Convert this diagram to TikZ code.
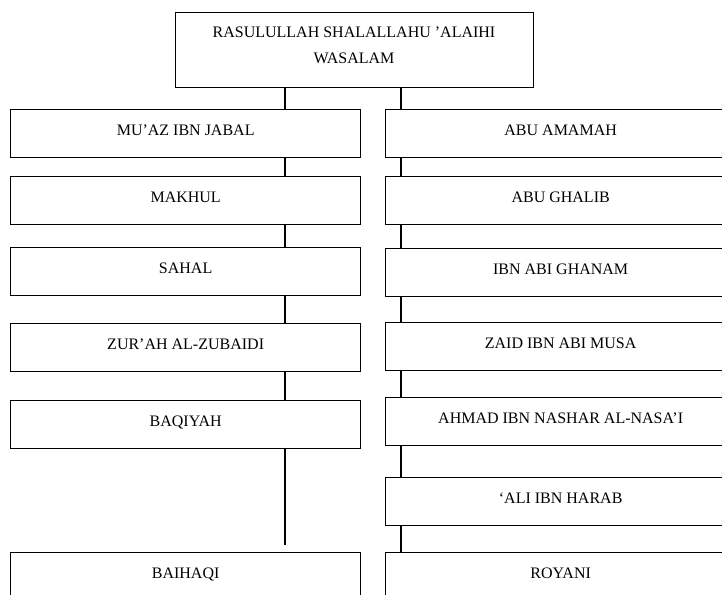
\documentclass[tikz,border=0pt]{standalone}
\usepackage{fontspec}
\setmainfont{Liberation Serif}
\begin{document}
\begin{tikzpicture}[x=0.75pt,y=-0.75pt,
  box/.style={draw=black, line width=1pt, rectangle, inner sep=0pt,
    minimum width=262.5pt, minimum height=36pt, anchor=north west,
    font=\fontsize{12}{14}\selectfont, text height=8pt, text depth=6pt},
  link/.style={draw=black, line width=0.8pt}]
\useasboundingbox (0,0) rectangle (722,594);
\clip (0,0) rectangle (722,594);

% root box with its two-line title
\node[draw=black, line width=1pt, rectangle, inner sep=0pt,
      minimum width=268.5pt, minimum height=56.25pt, anchor=north west]
      (top) at (175,12) {};
\node[align=center, font=\fontsize{12}{19.5}\selectfont, inner sep=0pt]
      (toptitle) at (354,45) {RASULULLAH SHALALLAHU ’ALAIHI\\WASALAM};

% x positions of the two chains
\coordinate (lx) at (285,0);
\coordinate (rx) at (401,0);

% left chain
\node[box] (l1) at (10,109) {MU’AZ IBN JABAL};
\node[box] (l2) at (10,176) {MAKHUL};
\node[box] (l3) at (10,247) {SAHAL};
\node[box] (l4) at (10,323) {ZUR’AH AL-ZUBAIDI};
\node[box] (l5) at (10,400) {BAQIYAH};
\node[box] (l6) at (10,552) {BAIHAQI};
\coordinate (lend) at (285,545);

% right chain
\node[box] (r1) at (385,109) {ABU AMAMAH};
\node[box] (r2) at (385,176) {ABU GHALIB};
\node[box] (r3) at (385,248) {IBN ABI GHANAM};
\node[box] (r4) at (385,322) {ZAID IBN ABI MUSA};
\node[box] (r5) at (385,397) {AHMAD IBN NASHAR AL-NASA’I};
\node[box] (r6) at (385,477) {‘ALI IBN HARAB};
\node[box] (r7) at (385,552) {ROYANI};

% connectors
\draw[link] (top.south -| lx) -- (l1.north -| lx);
\draw[link] (l1.south -| lx) -- (l2.north -| lx);
\draw[link] (l2.south -| lx) -- (l3.north -| lx);
\draw[link] (l3.south -| lx) -- (l4.north -| lx);
\draw[link] (l4.south -| lx) -- (l5.north -| lx);
\draw[link] (l5.south -| lx) -- (lend);

\draw[link] (top.south -| rx) -- (r1.north -| rx);
\draw[link] (r1.south -| rx) -- (r2.north -| rx);
\draw[link] (r2.south -| rx) -- (r3.north -| rx);
\draw[link] (r3.south -| rx) -- (r4.north -| rx);
\draw[link] (r4.south -| rx) -- (r5.north -| rx);
\draw[link] (r5.south -| rx) -- (r6.north -| rx);
\draw[link] (r6.south -| rx) -- (r7.north -| rx);
\end{tikzpicture}
\end{document}
